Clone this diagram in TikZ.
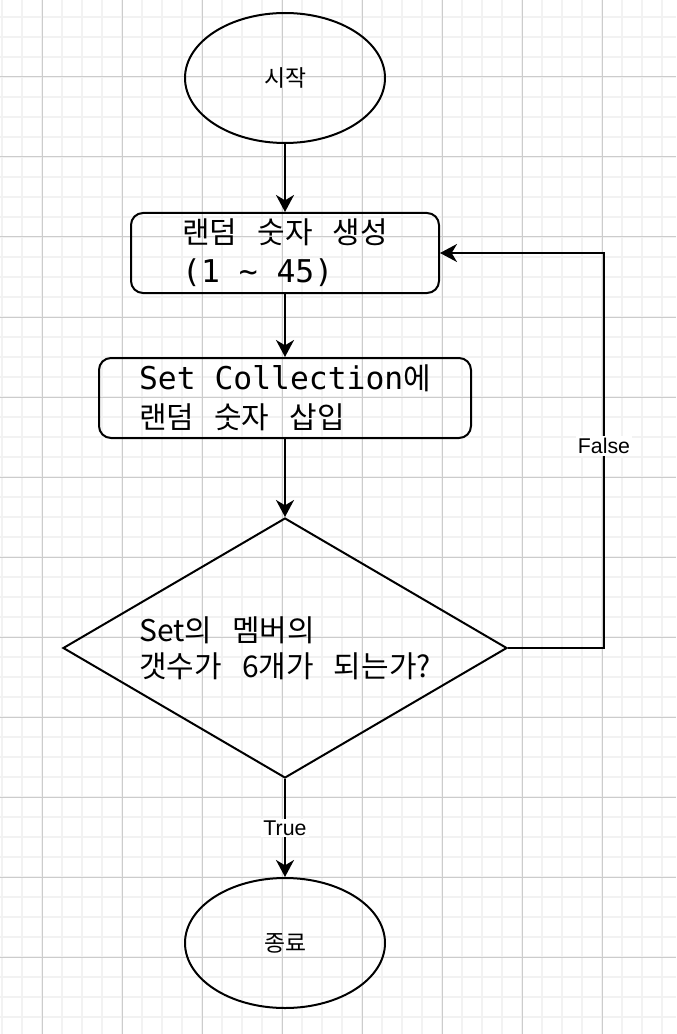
\documentclass[tikz,border=0pt]{standalone}
\usepackage{fontspec}
\setmainfont{Liberation Sans}
\newfontfamily\kr[WordSpace=3,Scale=1.07]{Noto Sans CJK KR}
\newfontfamily\mono[Scale=1.12]{DejaVu Sans Mono}
\usetikzlibrary{arrows.meta,shapes.geometric}

\begin{document}
\begin{tikzpicture}[x=0.75pt,y=-0.75pt,line width=1.5pt,
		>={Stealth[length=12.75pt,width=13.5pt,inset=4pt]},
		term/.style={draw,ellipse,minimum width=150pt,minimum height=97.5pt,inner sep=0pt,
			font=\kr\fontsize{16}{20}\selectfont},
		proc/.style={draw,rounded corners=9pt,minimum height=60pt,align=left,
			font=\fontsize{21}{29}\selectfont},
		cond/.style={draw,diamond,minimum width=333pt,minimum height=195pt,inner sep=0pt,
			aspect=1.7,align=left,font=\kr\fontsize{21}{27}\selectfont},
		lbl/.style={fill=white,inner sep=1.5pt,font=\fontsize{16}{20}\selectfont}]
				\useasboundingbox (0,0) rectangle (676,1034);
				\fill[white] (0,0) rectangle (676,1034);
				% grid
				\foreach \x in {2,22,...,662}
					\draw[gray!10,line width=1.5pt] (\x,0) -- (\x,1034);
				\foreach \y in {17,37,...,1017}
					\draw[gray!10,line width=1.5pt] (0,\y) -- (676,\y);
				\foreach \x in {42,122,...,602}
					\draw[gray!40,line width=0.75pt] (\x,0) -- (\x,1034);
				\foreach \y in {77,157,...,957}
					\draw[gray!40,line width=0.75pt] (0,\y) -- (676,\y);
				
				\node[term] (start) at (285,78) {시작};
				\node[proc,minimum width=231pt] (gen) at (285,253)
					{{\kr 랜덤 숫자 생성}\\{\mono (1 \textasciitilde{} 45)}};
				\node[proc,minimum width=279pt] (ins) at (285,398)
					{{\mono Set Collection}{\kr 에}\\{\kr 랜덤 숫자 삽입}};
				\node[cond] (check) at (285,648) {Set의 멤버의\\갯수가 6개가 되는가?};
				\node[term] (stop) at (285,943) {종료};
				
				\draw[->] (start) -- (gen);
				\draw[->] (gen) -- (ins);
				\draw[->] (ins) -- (check);
				\draw[->] (check) -- node[lbl] {True} (stop);
				\draw[->] (check.east) -- ++(72pt,0) |- node[lbl,pos=0.256] {False} (gen.east);
	\end{tikzpicture}
\end{document}
